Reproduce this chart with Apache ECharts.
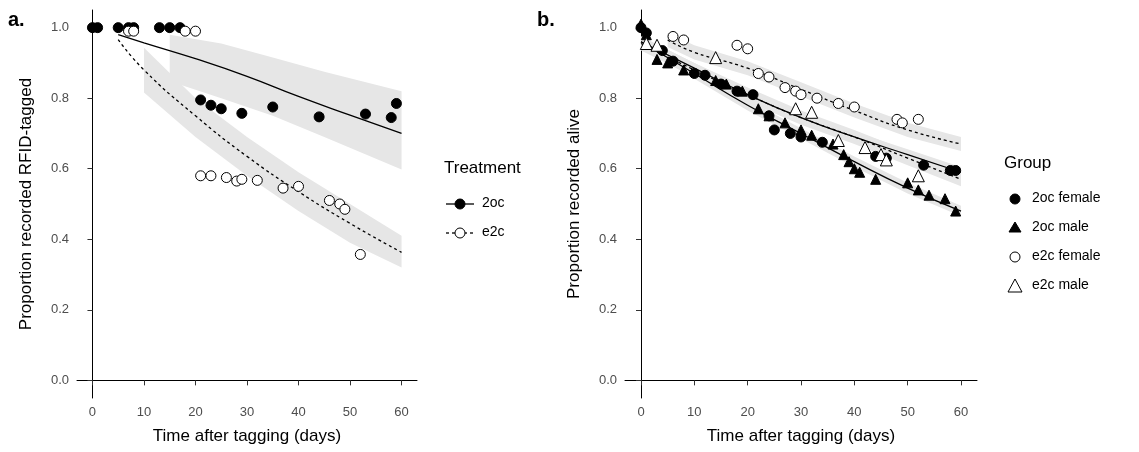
<!DOCTYPE html><html><head><meta charset="utf-8">
<script src="https://cdn.jsdelivr.net/npm/echarts@6/dist/echarts.min.js"></script>
<style>html,body{margin:0;background:#fff}#c{width:1139px;height:452px}</style></head><body><div id="c"></div><script>
// Panel a data
const a2ocPts=[[0,1],[1,1],[5,1],[7,1],[8,1],[13,1],[15,1],[17,1],[21,0.795],[23,0.78],[25,0.77],[29,0.757],[35,0.775],[44,0.747],[53,0.755],[58,0.745],[59,0.785]];
const ae2cPts=[[7,0.99],[8,0.99],[18,0.99],[20,0.99],[21,0.58],[23,0.58],[26,0.575],[28,0.565],[29,0.57],[32,0.567],[37,0.545],[40,0.55],[46,0.51],[48,0.5],[49,0.485],[52,0.357]];
const a2ocFit=[[5,0.98],[10,0.957],[20,0.912],[30,0.862],[40,0.805],[50,0.752],[60,0.70]];
const a2ocBandX=[15,25,35,45,60];
const a2ocBandLo=[0.848,0.80,0.75,0.69,0.598];
const a2ocBandHi=[0.98,0.955,0.915,0.875,0.82];
const ae2cFit=[[5,0.966],[10,0.88],[20,0.75],[30,0.635],[40,0.535],[50,0.445],[60,0.363]];
const ae2cBandX=[10,20,30,40,50,60];
const ae2cBandLo=[0.816,0.69,0.58,0.48,0.39,0.32];
const ae2cBandHi=[0.943,0.80,0.69,0.59,0.50,0.41];
// Panel b data
const bFemale2oc=[[0,1.0],[1,0.985],[4,0.935],[6,0.905],[10,0.87],[12,0.865],[15,0.84],[18,0.82],[21,0.81],[24,0.75],[25,0.71],[28,0.7],[30,0.69],[34,0.675],[44,0.635],[46,0.63],[53,0.61],[58,0.595],[59,0.595]];
const bMale2oc=[[0,1.01],[1,0.98],[3,0.91],[5,0.9],[8,0.88],[14,0.85],[16,0.84],[19,0.82],[22,0.77],[24,0.75],[27,0.73],[30,0.71],[32,0.695],[36,0.67],[38,0.64],[39,0.62],[40,0.6],[41,0.59],[44,0.57],[50,0.56],[52,0.54],[54,0.525],[57,0.515],[59,0.48]];
const bFemaleE2c=[[6,0.975],[8,0.965],[18,0.95],[20,0.94],[22,0.87],[24,0.86],[27,0.83],[29,0.82],[30,0.81],[33,0.8],[37,0.785],[40,0.775],[48,0.74],[49,0.73],[52,0.74]];
const bMaleE2c=[[1,0.955],[3,0.95],[14,0.915],[29,0.77],[32,0.76],[37,0.68],[42,0.66],[45,0.64],[46,0.625],[52,0.58]];
const fitX=[0,10,20,30,40,50,60];
const fitF2oc=[0.96,0.885,0.81,0.745,0.69,0.64,0.59];
const fitM2oc=[0.96,0.87,0.78,0.70,0.62,0.545,0.48];
const fitFe2cX=[5,10,20,30,40,50,60];
const fitFe2c=[0.965,0.93,0.885,0.825,0.765,0.71,0.67];
const fitMe2c=[0.955,0.88,0.81,0.745,0.69,0.63,0.57];
const xTicks=[0,10,20,30,40,50,60];
const yTicks=[0,0.2,0.4,0.6,0.8,1.0];

const pair=(xs,ys)=>xs.map((x,i)=>[x,ys[i]]);
const tf='Arial, Liberation Sans';
function xAx(i){return {type:'value',gridIndex:i,min:-3,max:63,splitLine:{show:false},
 axisLine:{lineStyle:{color:'#000'}},axisTick:{customValues:xTicks,lineStyle:{color:'#333'}},
 axisLabel:{customValues:xTicks,color:'#4d4d4d',fontSize:13,fontFamily:tf},
 name:'Time after tagging (days)',nameLocation:'middle',nameGap:30,nameTextStyle:{fontSize:17,color:'#000',fontFamily:tf}};}
function yAx(i,n){return {type:'value',gridIndex:i,min:-0.05,max:1.05,splitLine:{show:false},
 axisLine:{show:true,lineStyle:{color:'#000'}},axisTick:{show:true,customValues:yTicks,lineStyle:{color:'#333'}},
 axisLabel:{customValues:yTicks,formatter:v=>v.toFixed(1),color:'#4d4d4d',fontSize:13,fontFamily:tf},
 name:n,nameLocation:'middle',nameGap:42,nameTextStyle:{fontSize:17,color:'#000',fontFamily:tf}};}
function band(i,xs,lo,hi){
 return {type:'custom',xAxisIndex:i,yAxisIndex:i,silent:true,z:1,data:[0],
  renderItem:(p,api)=>{
   const pts=xs.map((x,k)=>api.coord([x,hi[k]])).concat(xs.slice().reverse().map((x,k)=>api.coord([x,lo[xs.length-1-k]])));
   return {type:'polygon',shape:{points:pts},style:{fill:'#e6e6e6'}};
  }};}
function fit(i,d,dash){return {type:'line',xAxisIndex:i,yAxisIndex:i,data:d,smooth:true,symbol:'none',lineStyle:{color:'#000',width:1.3,type:dash?[3,3]:'solid'},z:3};}
function sc(i,d,sym,fill,size){return {type:'scatter',xAxisIndex:i,yAxisIndex:i,data:d,symbol:sym,symbolSize:size||10,itemStyle:{color:fill?'#000':'#fff',borderColor:'#000',borderWidth:1,opacity:1},z:5};}
const pm=(a,d)=>a.map(v=>+(v+d).toFixed(3));
const series=[
 band(0,a2ocBandX,a2ocBandLo,a2ocBandHi),
 band(0,ae2cBandX,ae2cBandLo,ae2cBandHi),
 fit(0,a2ocFit,false),fit(0,ae2cFit,true),
 sc(0,a2ocPts,'circle',true),sc(0,ae2cPts,'circle',false),
 band(1,fitX,pm(fitF2oc,-0.015),pm(fitF2oc,0.015)),
 band(1,fitX,pm(fitM2oc,-0.015),pm(fitM2oc,0.015)),
 band(1,fitFe2cX,pm(fitFe2c,-0.02),pm(fitFe2c,0.02)),
 band(1,fitX,pm(fitMe2c,-0.02),pm(fitMe2c,0.02)),
 fit(1,pair(fitX,fitF2oc),false),fit(1,pair(fitX,fitM2oc),false),
 fit(1,pair(fitFe2cX,fitFe2c),true),fit(1,pair(fitX,fitMe2c),true),
 sc(1,bFemale2oc,'circle',true),sc(1,bMale2oc,'triangle',true),
 sc(1,bFemaleE2c,'circle',false),sc(1,bMaleE2c,'triangle',false,12)
];
const g=[
 {type:'text',left:8,top:10,style:{text:'a.',font:'bold 20px '+tf,fill:'#000'}},
 {type:'text',left:537,top:10,style:{text:'b.',font:'bold 20px '+tf,fill:'#000'}},
 {type:'text',left:444,top:160,style:{text:'Treatment',font:'17px '+tf,fill:'#000'}},
 {type:'line',shape:{x1:446,y1:204,x2:474,y2:204},style:{stroke:'#000',lineWidth:1.3}},
 {type:'circle',shape:{cx:460,cy:204,r:5},style:{fill:'#000',stroke:'#000'}},
 {type:'text',left:482,top:196,style:{text:'2oc',font:'14px '+tf,fill:'#000'}},
 {type:'line',shape:{x1:446,y1:233,x2:474,y2:233},style:{stroke:'#000',lineWidth:1.3,lineDash:[3,3]}},
 {type:'circle',shape:{cx:460,cy:233,r:5},style:{fill:'#fff',stroke:'#000'}},
 {type:'text',left:482,top:225,style:{text:'e2c',font:'14px '+tf,fill:'#000'}},
 {type:'text',left:1004,top:155,style:{text:'Group',font:'17px '+tf,fill:'#000'}},
 {type:'circle',shape:{cx:1015,cy:199,r:5},style:{fill:'#000',stroke:'#000'}},
 {type:'text',left:1032,top:191,style:{text:'2oc female',font:'14px '+tf,fill:'#000'}},
 {type:'polygon',shape:{points:[[1015,222],[1021,232],[1009,232]]},style:{fill:'#000',stroke:'#000'}},
 {type:'text',left:1032,top:220,style:{text:'2oc male',font:'14px '+tf,fill:'#000'}},
 {type:'circle',shape:{cx:1015,cy:257,r:5},style:{fill:'#fff',stroke:'#000'}},
 {type:'text',left:1032,top:249,style:{text:'e2c female',font:'14px '+tf,fill:'#000'}},
 {type:'polygon',shape:{points:[[1015,279],[1022,292],[1008,292]]},style:{fill:'#fff',stroke:'#000'}},
 {type:'text',left:1032,top:278,style:{text:'e2c male',font:'14px '+tf,fill:'#000'}}
];
const ch=echarts.init(document.getElementById('c'),null,{renderer:'canvas'});
ch.setOption({animation:false,backgroundColor:'#fff',
 grid:[{left:77,top:10,width:340,height:388},{left:625,top:10,width:352,height:388}],
 xAxis:[xAx(0),xAx(1)],yAxis:[yAx(0,'Proportion recorded RFID-tagged'),yAx(1,'Proportion recorded alive')],
 series,graphic:g});
</script></body></html>
